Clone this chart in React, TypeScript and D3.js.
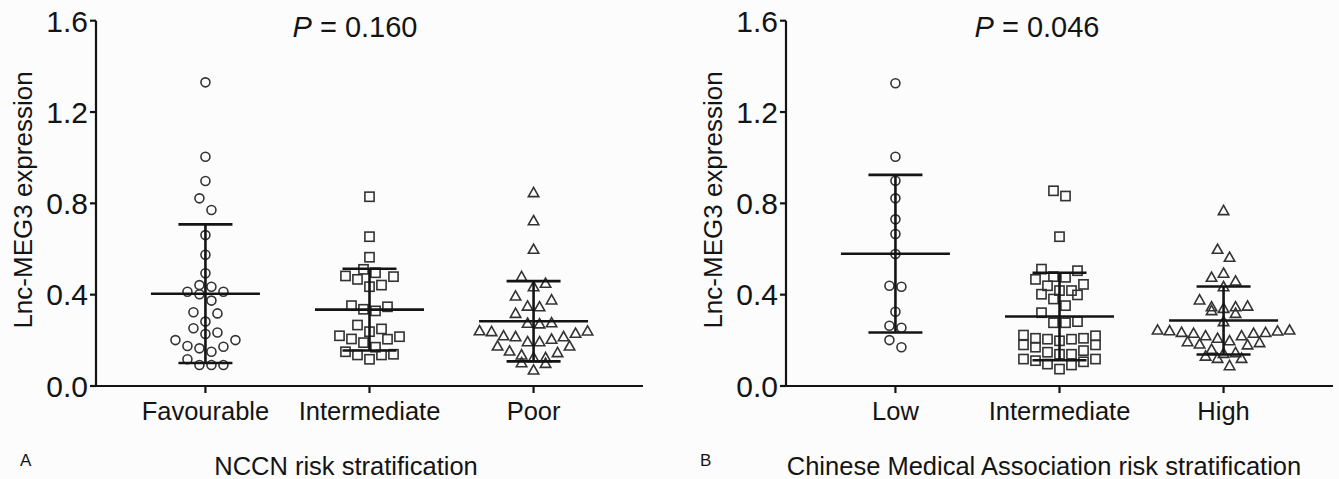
import React from 'react';
import * as d3 from 'd3';

// ---------- data ----------
const yTicks = [0, 0.4, 0.8, 1.2, 1.6];
const nccnCategories = ['Favourable', 'Intermediate', 'Poor'];
const cmaCategories = ['Low', 'Intermediate', 'High'];

const nccnFavourable = [1.33, 1.004, 0.898, 0.822, 0.771, 0.661, 0.575, 0.494, 0.442, 0.435, 0.413, 0.413, 0.402, 0.374, 0.318, 0.323, 0.282, 0.253, 0.234, 0.228, 0.201, 0.201, 0.175, 0.172, 0.165, 0.150, 0.117, 0.092, 0.092, 0.092];
const nccnIntermediate = [0.829, 0.654, 0.564, 0.511, 0.496, 0.482, 0.479, 0.467, 0.442, 0.435, 0.352, 0.347, 0.336, 0.329, 0.267, 0.238, 0.250, 0.216, 0.205, 0.220, 0.206, 0.190, 0.170, 0.150, 0.136, 0.136, 0.139, 0.117];
const nccnPoor = [0.847, 0.724, 0.599, 0.479, 0.450, 0.435, 0.394, 0.377, 0.347, 0.350, 0.318, 0.275, 0.272, 0.277, 0.241, 0.231, 0.238, 0.242, 0.216, 0.205, 0.194, 0.194, 0.216, 0.220, 0.175, 0.175, 0.146, 0.153, 0.136, 0.124, 0.124, 0.102, 0.099, 0.070];

const cmaLow = [1.326, 1.004, 0.899, 0.822, 0.730, 0.666, 0.578, 0.439, 0.435, 0.325, 0.264, 0.255, 0.201, 0.170];
const cmaIntermediate = [0.832, 0.855, 0.654, 0.505, 0.512, 0.476, 0.479, 0.467, 0.445, 0.439, 0.418, 0.418, 0.399, 0.402, 0.381, 0.352, 0.321, 0.277, 0.277, 0.282, 0.223, 0.209, 0.205, 0.198, 0.205, 0.209, 0.220, 0.180, 0.155, 0.170, 0.180, 0.139, 0.139, 0.148, 0.118, 0.106, 0.111, 0.118, 0.092, 0.096, 0.074];
const cmaHigh = [0.768, 0.599, 0.564, 0.494, 0.476, 0.460, 0.435, 0.377, 0.350, 0.340, 0.347, 0.347, 0.330, 0.318, 0.282, 0.245, 0.242, 0.235, 0.231, 0.220, 0.209, 0.220, 0.231, 0.234, 0.241, 0.245, 0.198, 0.190, 0.184, 0.180, 0.194, 0.161, 0.143, 0.146, 0.121, 0.121, 0.131, 0.089];

const pValueA = '0.160';
const pValueB = '0.046';
const yAxisTitle = 'Lnc-MEG3 expression';
const xTitleA = 'NCCN risk stratification';
const xTitleB = 'Chinese Medical Association risk stratification';

// ---------- layout ----------
const W = 1339;
const H = 479;
const FONT = "'Liberation Sans', Arial, Helvetica, sans-serif";
const INK = '#141414';
const MARK = '#333333';
const ROW_H = 12;   // px height of a swarm row
const STEP = 12;    // px horizontal spacing of markers in a row

type Shape = 'circle' | 'square' | 'triangle';

// Prism-like scatter layout: bin sorted values into rows, spread each row center-out
function swarm(values: number[], y: (v: number) => number) {
  const pts = values.map((v, i) => ({ v, i, y: y(v), x: 0 }));
  const sorted = [...pts].sort((a, b) => a.v - b.v);
  const rows: (typeof pts)[] = [];
  let cur: typeof pts = [];
  let startY = Infinity;
  for (const p of sorted) {
    if (cur.length && startY - p.y > ROW_H) {
      rows.push(cur);
      cur = [];
    }
    if (!cur.length) startY = p.y;
    cur.push(p);
  }
  if (cur.length) rows.push(cur);
  for (const row of rows) {
    const n = row.length;
    row.forEach((p, k) => {
      let slot: number;
      if (n % 2 === 1) {
        slot = k === 0 ? 0 : (k % 2 === 1 ? 1 : -1) * Math.ceil(k / 2);
      } else {
        slot = (k % 2 === 0 ? 1 : -1) * (Math.floor(k / 2) + 0.5);
      }
      p.x = slot * STEP;
    });
  }
  return pts;
}

function Marker({ shape, x, y }: { shape: Shape; x: number; y: number }) {
  const common = { fill: 'none', stroke: MARK, strokeWidth: 1.6 };
  if (shape === 'circle') return <circle cx={x} cy={y} r={4.5} {...common} />;
  if (shape === 'square') return <rect x={x - 4.6} y={y - 4.6} width={9.2} height={9.2} {...common} />;
  return <path d={`M${x},${y - 5.2}L${x + 5.2},${y + 4}L${x - 5.2},${y + 4}Z`} {...common} strokeLinejoin="miter" />;
}

function Panel({ x0, x1, categories, groups, pValue, pX, letter, letterX, title, titleX }: {
  x0: number; x1: number; categories: string[]; groups: number[][]; pValue: string; pX: number;
  letter: string; letterX: number; title: string; titleX: number;
}) {
  const yTop = 20.7;
  const yBottom = 386;
  const y = d3.scaleLinear().domain([0, 1.6]).range([yBottom, yTop]);
  const x = d3.scalePoint<string>().domain(categories).range([x0, x1]).padding(0.667);
  const shapes: Shape[] = ['circle', 'square', 'triangle'];
  return (
    <g>
      {/* y axis */}
      <line x1={x0} x2={x0} y1={yTop} y2={yBottom} stroke={INK} strokeWidth={2.2} />
      {yTicks.map((t) => (
        <g key={t}>
          <line x1={x0 - 6} x2={x0} y1={y(t)} y2={y(t)} stroke={INK} strokeWidth={2.2} />
          <text x={x0 - 8} y={y(t)} dy="0.36em" textAnchor="end" fontSize={30} fontFamily={FONT} fill={INK}>
            {t.toFixed(1)}
          </text>
        </g>
      ))}
      <text transform={`translate(${x0 - 64},200) rotate(-90)`} textAnchor="middle"
        fontSize={26} fontFamily={FONT} fill={INK}>{yAxisTitle}</text>
      {/* x axis */}
      <line x1={x0 - 1.1} x2={x1} y1={yBottom} y2={yBottom} stroke={INK} strokeWidth={2.2} />
      {categories.map((c) => (
        <g key={c}>
          <line x1={x(c)!} x2={x(c)!} y1={yBottom} y2={yBottom + 7} stroke={INK} strokeWidth={2.2} />
          <text x={x(c)!} y={yBottom + 34} textAnchor="middle" fontSize={25.5} fontFamily={FONT} fill={INK}>{c}</text>
        </g>
      ))}
      {/* points */}
      {groups.map((vals, gi) => {
        const cx = x(categories[gi])!;
        const pts = swarm(vals, y);
        const m = d3.mean(vals)!;
        const sd = d3.deviation(vals)!;
        return (
          <g key={gi}>
            {pts.map((p) => (
              <Marker key={p.i} shape={shapes[gi]} x={cx + p.x} y={p.y} />
            ))}
            <line x1={cx} x2={cx} y1={y(m + sd)} y2={y(Math.max(0, m - sd))} stroke={INK} strokeWidth={2.6} />
            <line x1={cx - 54.5} x2={cx + 54.5} y1={y(m)} y2={y(m)} stroke={INK} strokeWidth={2.6} />
            <line x1={cx - 27} x2={cx + 27} y1={y(m + sd)} y2={y(m + sd)} stroke={INK} strokeWidth={2.6} />
            <line x1={cx - 27} x2={cx + 27} y1={y(m - sd)} y2={y(m - sd)} stroke={INK} strokeWidth={2.6} />
          </g>
        );
      })}
      {/* P value */}
      <text x={pX} y={37} textAnchor="middle" fontSize={29} fontFamily={FONT} fill={INK}>
        <tspan fontStyle="italic">P</tspan> = {pValue}
      </text>
      <text x={letterX} y={466} fontSize={17} fontFamily={FONT} fill={INK}>{letter}</text>
      <text x={titleX} y={475} textAnchor="middle" fontSize={25.5} fontFamily={FONT} fill={INK}>{title}</text>
    </g>
  );
}

export default function App() {
  return (
    <svg width={W} height={H} viewBox={`0 0 ${W} ${H}`} style={{ position: 'absolute', left: 0, top: 0, background: '#fcfcfd' }}>
      <rect width={W} height={H} fill="#fcfcfd" />
      <Panel x0={96} x1={643} categories={nccnCategories} groups={[nccnFavourable, nccnIntermediate, nccnPoor]}
        pValue={pValueA} pX={355} letter="A" letterX={20} title={xTitleA} titleX={346} />
      <Panel x0={786} x1={1333} categories={cmaCategories} groups={[cmaLow, cmaIntermediate, cmaHigh]}
        pValue={pValueB} pX={1037} letter="B" letterX={700} title={xTitleB} titleX={1044} />
    </svg>
  );
}
